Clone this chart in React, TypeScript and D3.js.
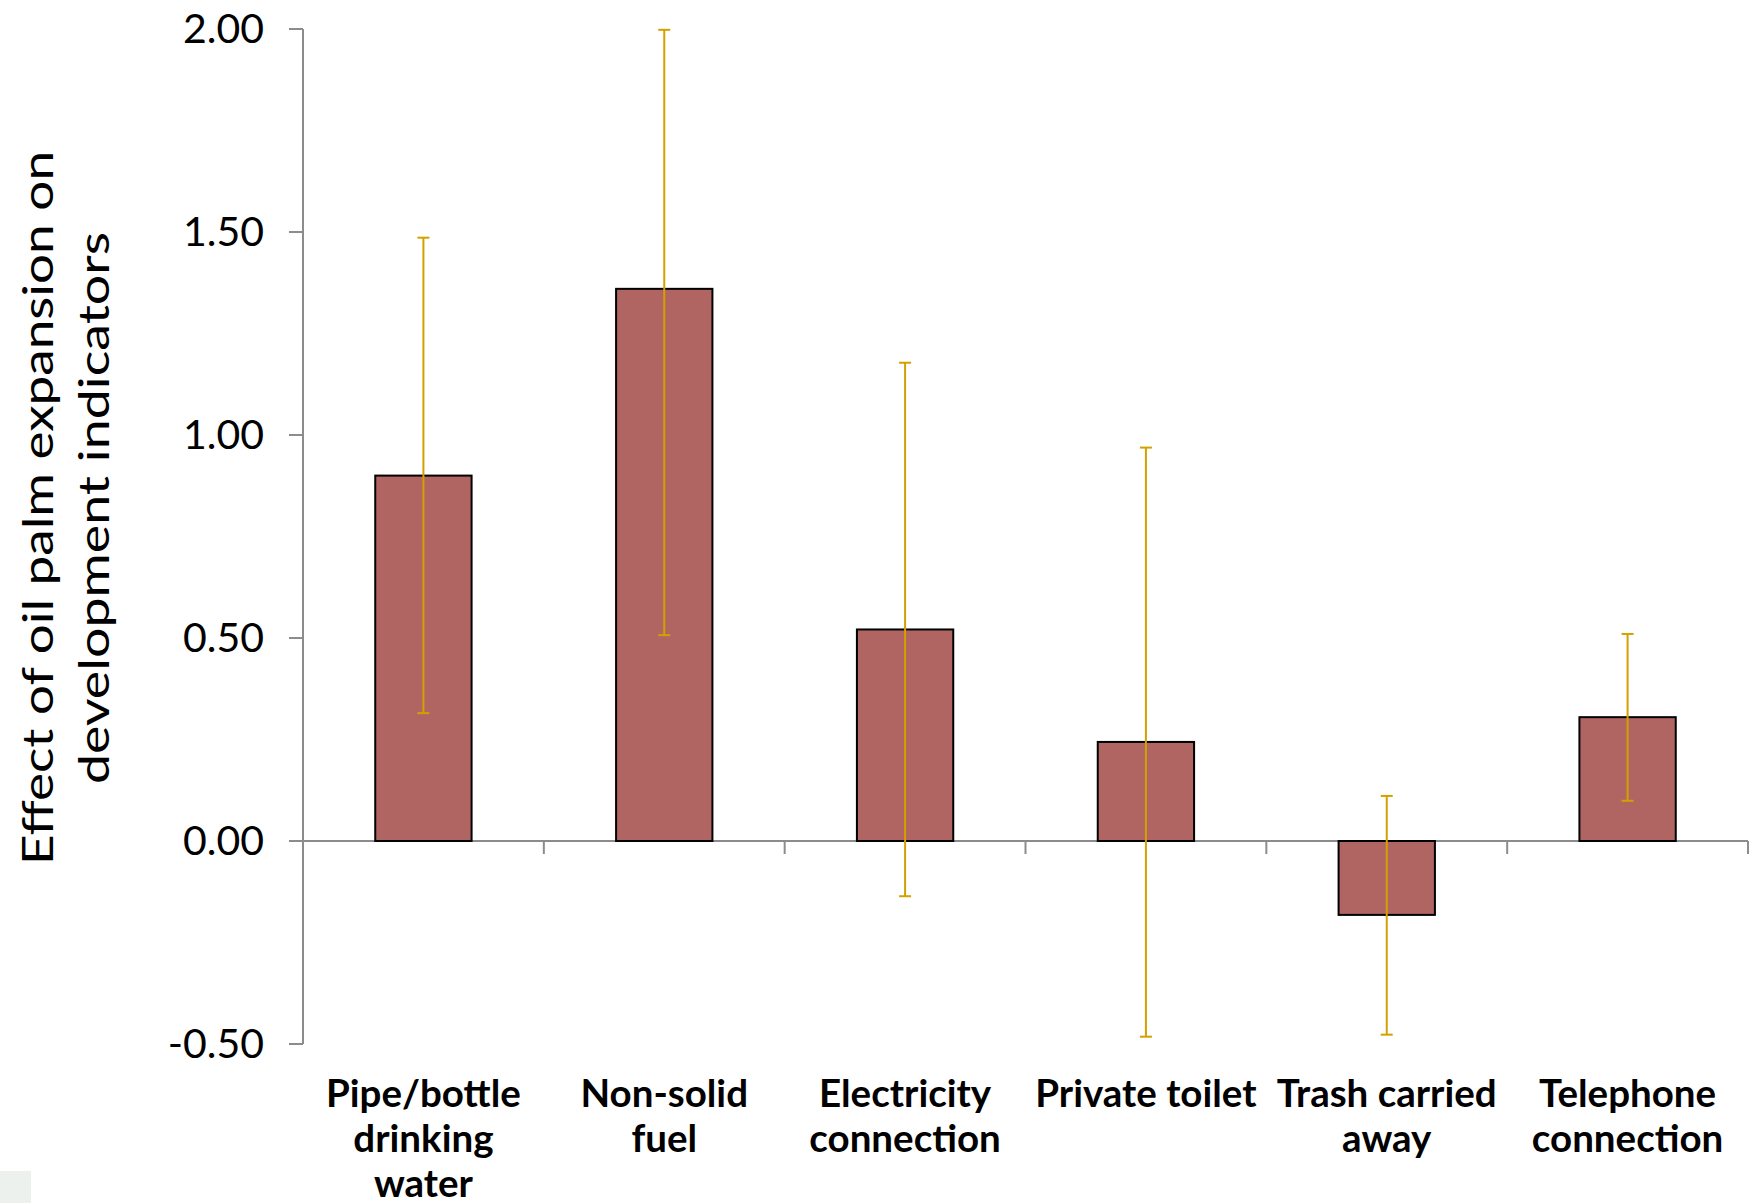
import React from "react";
import * as d3 from "d3";

const categories = [
  ["Pipe/bottle", "drinking", "water"],
  ["Non-solid", "fuel"],
  ["Electricity", "connection"],
  ["Private toilet"],
  ["Trash carried", "away"],
  ["Telephone", "connection"],
];
const values = [0.9, 1.36, 0.521, 0.244, -0.182, 0.305];
const errHigh = [1.486, 1.998, 1.178, 0.969, 0.111, 0.51];
const errLow = [0.315, 0.507, -0.136, -0.482, -0.477, 0.099];
const yTicks = [-0.5, 0, 0.5, 1.0, 1.5, 2.0];
const yTitle = ["Effect of oil palm expansion on", "development indicators"];
const yTitleLengths = [714, 552];

const W = 1750;
const H = 1203;
const left = 303;
const right = 1748;

export default function App() {
  const x = d3
    .scaleBand<number>()
    .domain(d3.range(values.length))
    .range([left, right])
    .padding(0);
  const y = d3.scaleLinear().domain([-0.5, 2.0]).range([1044, 29]);
  const bw = x.bandwidth() * 0.4;
  const axisColor = "#8c8c8c";
  const errColor = "#D4A000";
  const tickFont = "'Lato', 'Open Sans', sans-serif";

  return (
    <svg
      width={W}
      height={H}
      style={{ position: "absolute", left: 0, top: 0, background: "#fff" }}
    >
      <rect x={0} y={1171} width={31} height={32} fill="#edf1ee" />
      {/* y axis */}
      <line x1={left} x2={left} y1={y(2)} y2={y(-0.5)} stroke={axisColor} strokeWidth={2} />
      {yTicks.map((t) => (
        <g key={t}>
          <line x1={left - 14} x2={left} y1={y(t)} y2={y(t)} stroke={axisColor} strokeWidth={2} />
          <text
            x={264}
            y={y(t)}
            dy="0.35em"
            textAnchor="end"
            fontFamily={tickFont}
            fontSize={41}
            fill="#000"
          >
            {t.toFixed(2)}
          </text>
        </g>
      ))}
      {/* x axis at zero */}
      <line x1={left} x2={right} y1={y(0)} y2={y(0)} stroke={axisColor} strokeWidth={2} />
      {d3.range(values.length + 1).map((i) => {
        const xx = i < values.length ? (x(i) as number) : right;
        return (
          <line key={i} x1={xx} x2={xx} y1={y(0)} y2={y(0) + 13} stroke={axisColor} strokeWidth={2} />
        );
      })}
      {/* bars */}
      {values.map((v, i) => {
        const cx = (x(i) as number) + x.bandwidth() / 2;
        return (
          <rect
            key={i}
            x={cx - bw / 2}
            y={Math.min(y(v), y(0))}
            width={bw}
            height={Math.abs(y(v) - y(0))}
            fill="#B06563"
            stroke="#000"
            strokeWidth={2}
          />
        );
      })}
      {/* error bars */}
      {values.map((v, i) => {
        const cx = (x(i) as number) + x.bandwidth() / 2;
        return (
          <g key={i} stroke={errColor} strokeWidth={2}>
            <line x1={cx} x2={cx} y1={y(errHigh[i])} y2={y(errLow[i])} />
            <line x1={cx - 6} x2={cx + 6} y1={y(errHigh[i])} y2={y(errHigh[i])} />
            <line x1={cx - 6} x2={cx + 6} y1={y(errLow[i])} y2={y(errLow[i])} />
          </g>
        );
      })}
      {/* category labels */}
      {categories.map((lines, i) => {
        const cx = (x(i) as number) + x.bandwidth() / 2;
        return (
          <text
            key={i}
            textAnchor="middle"
            fontFamily={tickFont}
            fontWeight="bold"
            fontSize={38.5}
            fill="#000"
          >
            {lines.map((l, j) => (
              <tspan key={j} x={cx} y={1107 + j * 45}>
                {l}
              </tspan>
            ))}
          </text>
        );
      })}
      {/* y title */}
      <g transform="translate(0,508) rotate(-90)">
        {yTitle.map((l, j) => (
          <text
            key={j}
            x={0}
            y={53 + j * 56}
            textAnchor="middle"
            fontFamily={tickFont}
            fontSize={42}
            textLength={yTitleLengths[j]}
            lengthAdjust="spacingAndGlyphs"
            fill="#000"
          >
            {l}
          </text>
        ))}
      </g>
    </svg>
  );
}
